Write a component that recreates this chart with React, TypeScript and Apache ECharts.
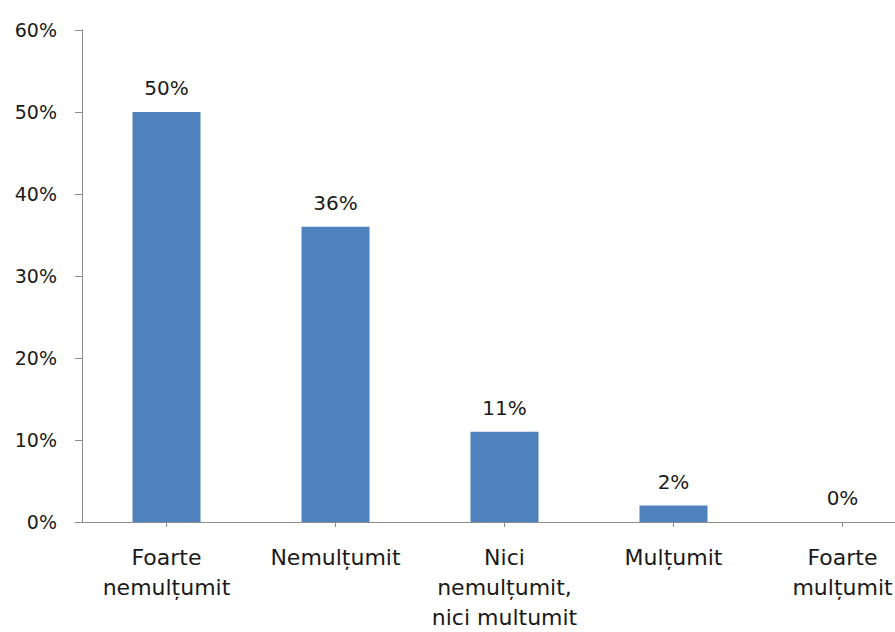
import React, { useEffect, useRef } from "react";
import * as echarts from "echarts";

const categories = [
  "Foarte\nnemulțumit",
  "Nemulțumit",
  "Nici\nnemulțumit,\nnici multumit",
  "Mulțumit",
  "Foarte\nmulțumit",
];
const values = [50, 36, 11, 2, 0];
const yMin = 0;
const yMax = 60;
const yInterval = 10;

export default function App() {
  const ref = useRef<HTMLDivElement>(null);
  useEffect(() => {
    if (!ref.current) return;
    const chart = echarts.init(ref.current, null, { renderer: "svg" });
    const font = "DejaVu Sans";
    chart.setOption({
      animation: false,
      backgroundColor: "#ffffff",
      grid: { left: 82, top: 30, bottom: 110, right: 0, containLabel: false },
      xAxis: {
        type: "category",
        data: categories,
        boundaryGap: true,
        axisLine: { show: true, lineStyle: { color: "#8c8c8c", width: 1 } },
        axisTick: { show: true, alignWithLabel: true, length: 5, lineStyle: { color: "#8c8c8c" } },
        axisLabel: {
          interval: 0,
          margin: 20,
          color: "#1a1a1a",
          fontFamily: font,
          fontSize: 22,
          lineHeight: 30,
        },
        splitLine: { show: false },
      },
      yAxis: {
        type: "value",
        min: yMin,
        max: yMax,
        interval: yInterval,
        axisLine: { show: true, lineStyle: { color: "#8c8c8c", width: 1 } },
        axisTick: { show: true, length: 7, lineStyle: { color: "#8c8c8c" } },
        axisLabel: {
          formatter: "{value}%",
          margin: 25,
          color: "#1a1a1a",
          fontFamily: font,
          fontSize: 19,
        },
        splitLine: { show: false },
      },
      series: [
        {
          type: "bar",
          data: values,
          barWidth: 68,
          itemStyle: { color: "#4F81BD" },
          label: {
            show: true,
            position: "top",
            distance: 14,
            formatter: "{c}%",
            color: "#1a1a1a",
            fontFamily: font,
            fontSize: 20,
          },
        },
      ],
    });
    return () => chart.dispose();
  }, []);
  return (
    <div
      style={{ position: "absolute", left: 0, top: 0, width: 895, height: 632, overflow: "hidden", background: "#ffffff" }}
    >
      <div ref={ref} style={{ width: 927, height: 632 }} />
    </div>
  );
}
